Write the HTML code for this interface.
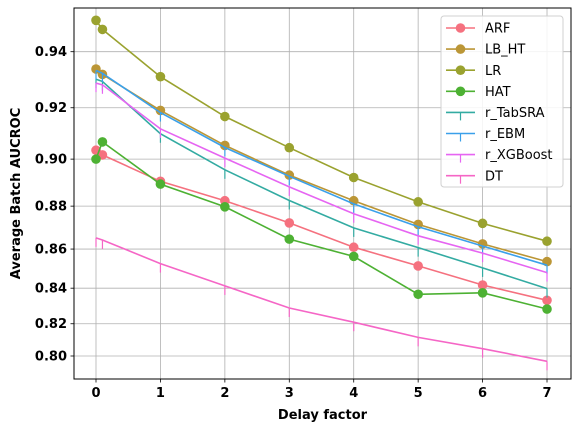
<!DOCTYPE html>
<html><head><meta charset="utf-8"><style>
html,body{margin:0;padding:0;background:#fff;}
svg{display:block;font-family:"DejaVu Sans","Liberation Sans",sans-serif;}
</style></head><body>
<svg id="chart" width="579" height="432" viewBox="0 0 579 432" xmlns="http://www.w3.org/2000/svg">
<rect x="0" y="0" width="579" height="432" fill="#fff"/>
<g id="grid"></g><g id="series"></g><g id="axes"></g><g id="legend"></g>
</svg>
<script>
const xCategories = [0, 0.1, 1, 2, 3, 4, 5, 6, 7];
const yTicks = [0.80, 0.82, 0.84, 0.86, 0.88, 0.90, 0.92, 0.94];
const xTicks = [0, 1, 2, 3, 4, 5, 6, 7];
const seriesNames = ["ARF","LB_HT","LR","HAT","r_TabSRA","r_EBM","r_XGBoost","DT"];
const arfValues      = [0.9036,0.9017,0.8908,0.8824,0.8724,0.8609,0.8516,0.8417,0.8334];
const lbhtValues     = [0.9340,0.9321,0.9190,0.9055,0.8934,0.8824,0.8717,0.8625,0.8538];
const lrValues       = [0.9505,0.9475,0.9313,0.9167,0.9046,0.8924,0.8819,0.8722,0.8638];
const hatValues      = [0.9000,0.9069,0.8896,0.8797,0.8648,0.8564,0.8367,0.8375,0.8285];
const tabsraValues   = [0.9304,0.9296,0.9101,0.8956,0.8825,0.8701,0.8607,0.8506,0.8398];
const ebmValues      = [0.9335,0.9325,0.9182,0.9047,0.8929,0.8810,0.8706,0.8615,0.8520];
const xgboostValues  = [0.9290,0.9284,0.9120,0.9004,0.8884,0.8766,0.8664,0.8580,0.8482];
const dtValues       = [0.8654,0.8644,0.8528,0.8412,0.8291,0.8209,0.8118,0.8047,0.7965];

const NS="http://www.w3.org/2000/svg";
const L=74,R=571,T=8,B=379;
function xs(v){return 96+v*64.43;}
function ys(v){return 356-749.1*(Math.pow(v,5)-0.32768);}
function mk(tag,attrs,parent){const e=document.createElementNS(NS,tag);for(const k in attrs)e.setAttribute(k,attrs[k]);parent.appendChild(e);return e;}
const grid=document.getElementById('grid'),axes=document.getElementById('axes'),ser=document.getElementById('series'),leg=document.getElementById('legend');

xTicks.forEach(t=>{
  const g=mk('line',{x1:xs(t),x2:xs(t),y1:T,y2:B,stroke:'#b0b0b0','stroke-width':0.8},grid);
  
  
  const tk=mk('line',{x1:xs(t),x2:xs(t),y1:B,y2:B+3.5,stroke:'#000','stroke-width':0.8},axes);
  
  
  const tx=mk('text',{x:xs(t),y:B+18,'text-anchor':'middle','font-size':'13','font-weight':'bold'},axes);
  tx.textContent=String(t);
  
  
});
yTicks.forEach(t=>{
  const g=mk('line',{x1:L,x2:R,y1:ys(t),y2:ys(t),stroke:'#b0b0b0','stroke-width':0.8},grid);
  
  
  const tk=mk('line',{x1:L-3.5,x2:L,y1:ys(t),y2:ys(t),stroke:'#000','stroke-width':0.8},axes);
  
  
  const tx=mk('text',{x:L-7,y:ys(t)+4.5,'text-anchor':'end','font-size':'13','font-weight':'bold'},axes);
  tx.textContent=t.toFixed(2);
  
  
});
const frame=mk('rect',{x:L,y:T,width:R-L,height:B-T,fill:'none',stroke:'#000','stroke-width':1},axes);


const xl=mk('text',{x:(L+R)/2,y:419,'text-anchor':'middle','font-size':'13','font-weight':'bold'},axes);
xl.textContent='Delay factor';


const yl=mk('text',{x:0,y:0,'text-anchor':'middle','font-size':'13','font-weight':'bold',transform:'translate(20,'+((T+B)/2)+') rotate(-90)'},axes);
yl.textContent='Average Batch AUCROC';



const seriesDefs=[
  {name:'ARF',vals:arfValues,color:'#f5717f',marker:'o'},
  {name:'LB_HT',vals:lbhtValues,color:'#bb9636',marker:'o'},
  {name:'LR',vals:lrValues,color:'#9aa22f',marker:'o'},
  {name:'HAT',vals:hatValues,color:'#4db133',marker:'o'},
  {name:'r_TabSRA',vals:tabsraValues,color:'#33aba2',marker:'t'},
  {name:'r_EBM',vals:ebmValues,color:'#3aa0ea',marker:'t'},
  {name:'r_XGBoost',vals:xgboostValues,color:'#e665f2',marker:'t'},
  {name:'DT',vals:dtValues,color:'#f566c6',marker:'t'}
];
seriesDefs.forEach(s=>{
  const g=mk('g',{},ser);
  
  
  const pts=s.vals.map((v,i)=>xs(xCategories[i]).toFixed(1)+','+ys(v).toFixed(1)).join(' ');
  const pl=mk('polyline',{points:pts,fill:'none',stroke:s.color,'stroke-width':1.6},g);
  
  
  s.vals.forEach((v,i)=>{
    const cx=xs(xCategories[i]),cy=ys(v);
    if(s.marker==='o'){
      const c=mk('circle',{cx:cx,cy:cy,r:4.8,fill:s.color},g);
      
      
    } else {
      const c=mk('line',{x1:cx,x2:cx,y1:cy,y2:cy+9,stroke:s.color,'stroke-width':1.2},g);
      
      
    }
  });
});

const lb=mk('rect',{x:441,y:16,width:122,height:171,rx:3,fill:'#fff','fill-opacity':0.85,stroke:'#d0d0d0','stroke-width':1},leg);


seriesDefs.forEach((s,i)=>{
  const y=28+i*21.1;
  const g=mk('g',{},leg);
  
  
  mk('line',{x1:446,x2:475,y1:y,y2:y,stroke:s.color,'stroke-width':1.6},g);
  if(s.marker==='o') mk('circle',{cx:460.5,cy:y,r:4.8,fill:s.color},g);
  else mk('line',{x1:460.5,x2:460.5,y1:y,y2:y+8,stroke:s.color,'stroke-width':1.2},g);
  const t=mk('text',{x:485,y:y+4.6,'font-size':'13'},g);
  t.textContent=s.name;
});
</script>
</body></html>
